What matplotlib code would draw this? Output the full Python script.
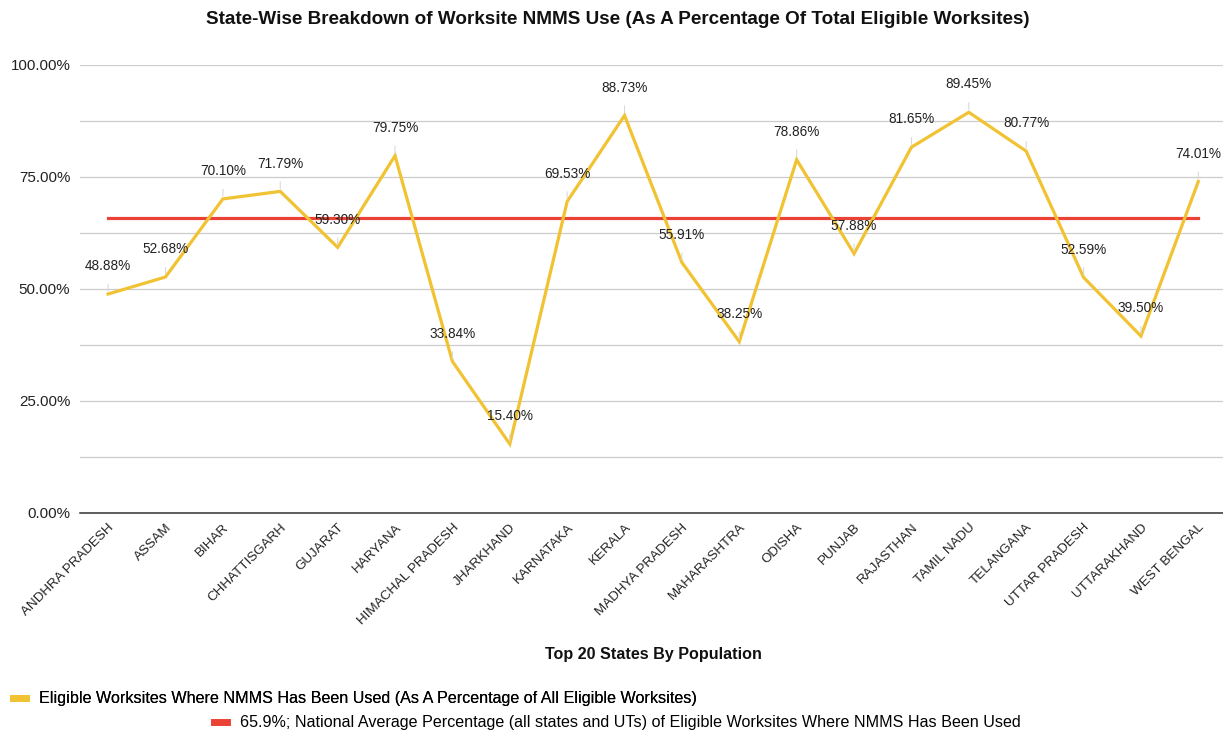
import matplotlib
matplotlib.use("Agg")
import matplotlib.pyplot as plt
from matplotlib.lines import Line2D
from matplotlib.ticker import MultipleLocator, FuncFormatter

states = ["ANDHRA PRADESH", "ASSAM", "BIHAR", "CHHATTISGARH", "GUJARAT", "HARYANA",
          "HIMACHAL PRADESH", "JHARKHAND", "KARNATAKA", "KERALA", "MADHYA PRADESH",
          "MAHARASHTRA", "ODISHA", "PUNJAB", "RAJASTHAN", "TAMIL NADU", "TELANGANA",
          "UTTAR PRADESH", "UTTARAKHAND", "WEST BENGAL"]
nmms_share = [48.88, 52.68, 70.10, 71.79, 59.30, 79.75, 33.84, 15.40, 69.53, 88.73,
              55.91, 38.25, 78.86, 57.88, 81.65, 89.45, 80.77, 52.59, 39.50, 74.01]
national_avg = 65.9

series_label = "Eligible Worksites Where NMMS Has Been Used (As A Percentage of All Eligible Worksites)"
avg_label = ("65.9%; National Average Percentage (all states and UTs) of Eligible "
             "Worksites Where NMMS Has Been Used")

YELLOW = "#f1c232"
RED = "#ea4335"
SANS = ["Liberation Sans", "DejaVu Sans"]

fig = plt.figure(figsize=(12.23, 7.33), dpi=100)
ax = fig.add_axes([80 / 1223, 1 - 513 / 733, 1 - 80 / 1223, (513 - 65) / 733])

x = list(range(len(states)))
ax.plot(x, nmms_share, color=YELLOW, lw=2.3, zorder=3, solid_joinstyle="miter")
ax.plot([x[0], x[-1]], [national_avg, national_avg], color=RED, lw=2.3, zorder=2)

# value labels with thin leader lines
for xi, v in zip(x, nmms_share):
    ax.annotate(f"{v:.2f}%", xy=(xi, v), xytext=(0, 20), textcoords="offset points",
                ha="center", va="center", fontsize=9.8, family=SANS, color="#222222",
                zorder=4,
                arrowprops=dict(arrowstyle="-", color="#d9d9d9", lw=0.8,
                                shrinkA=6, shrinkB=2))

ax.set_xlim(-0.49, 19.43)
ax.set_ylim(0, 100)
ax.yaxis.set_major_locator(MultipleLocator(25))
ax.yaxis.set_minor_locator(MultipleLocator(12.5))
ax.yaxis.set_major_formatter(FuncFormatter(lambda v, p: f"{v:.2f}%"))
ax.grid(axis="y", which="both", color="#cccccc", lw=0.9, zorder=0)
ax.set_axisbelow(True)
for s in ["top", "right", "left"]:
    ax.spines[s].set_visible(False)
ax.spines["bottom"].set_color("#333333")
ax.spines["bottom"].set_linewidth(1.1)
ax.tick_params(axis="y", which="both", length=0, pad=7, labelsize=10.9, labelcolor="#222222")
for lab in ax.get_yticklabels():
    lab.set_family(SANS)

ax.set_xticks(x)
ax.set_xticklabels(states, rotation=45, ha="right", va="top", rotation_mode="anchor",
                   fontsize=9.6, family=SANS, color="#222222")
ax.tick_params(axis="x", length=0, pad=6)

fig.text(618 / 1223, 1 - 20 / 733,
         "State-Wise Breakdown of Worksite NMMS Use (As A Percentage Of Total Eligible Worksites)",
         ha="center", va="center", fontsize=13.6, fontweight="bold", family=SANS, color="#111111")
fig.text(653 / 1223, 1 - 654 / 733, "Top 20 States By Population", ha="center", va="center",
         fontsize=11.6, fontweight="bold", family=SANS, color="#111111")

# two-row legend
h1 = Line2D([], [], color=YELLOW, lw=5)
h2 = Line2D([], [], color=RED, lw=5)
leg1 = fig.legend(handles=[h1], labels=[series_label], loc="center left",
                  bbox_to_anchor=(8 / 1223, 1 - 699 / 733), frameon=False,
                  prop={"family": SANS, "size": 11.6}, handlelength=0.8,
                  handletextpad=0.8, borderaxespad=0, borderpad=0.3)
fig.add_artist(leg1)
fig.legend(handles=[h2], labels=[avg_label], loc="center left",
           bbox_to_anchor=(209 / 1223, 1 - 723 / 733), frameon=False,
           prop={"family": SANS, "size": 11.6}, handlelength=0.8,
           handletextpad=0.8, borderaxespad=0, borderpad=0.3)

fig.savefig("out.png", dpi=100)
